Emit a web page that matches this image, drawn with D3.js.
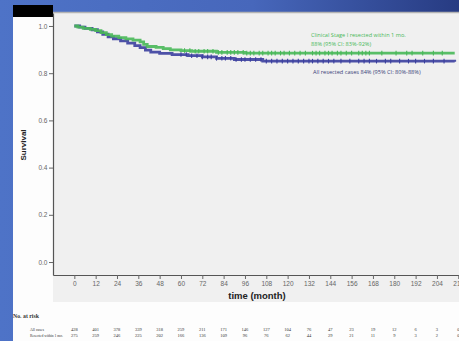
<!DOCTYPE html>
<html>
<head>
<meta charset="utf-8">
<script src="https://cdn.jsdelivr.net/npm/d3@7"></script>
<style>
  html, body { margin: 0; padding: 0; background: #4a6cc2; }
  svg { display: block; }
</style>
</head>
<body>
<div id="chart"></div>
<script>
// step points [month, survival]
const stageIMonths = [0, 2, 5, 9, 12, 15, 18, 21, 25, 29, 33, 37, 39, 41, 46, 50, 54, 60, 66, 80, 96, 214];
const stageISurv   = [1.0, 0.995, 0.99, 0.986, 0.98, 0.972, 0.963, 0.957, 0.951, 0.945, 0.94, 0.933, 0.922, 0.913, 0.909, 0.904, 0.899, 0.896, 0.893, 0.888, 0.885, 0.885];
const allMonths = [0, 3, 6, 10, 13, 16, 19, 22, 26, 30, 34, 37, 40, 43, 48, 55, 64, 72, 80, 90, 106, 214];
const allSurv   = [1.0, 0.995, 0.99, 0.984, 0.975, 0.965, 0.954, 0.946, 0.937, 0.927, 0.917, 0.908, 0.898, 0.889, 0.884, 0.879, 0.874, 0.869, 0.863, 0.858, 0.851, 0.848];

// censored observations (months)
const stageICensor = [62, 65, 68, 70, 73, 75, 78, 81, 83, 86, 88, 90, 92, 95, 97, 99, 101, 104, 106, 109, 111, 113, 116, 118, 121, 124, 127, 130, 134, 136, 138, 141, 143, 145, 148, 150, 153, 156, 160, 162, 164, 166, 173, 181, 187, 190, 196, 202, 207];
const allCensor = [60, 63, 66, 69, 72, 75, 77, 80, 83, 85, 88, 91, 94, 96, 99, 102, 105, 108, 111, 114, 117, 120, 123, 126, 129, 132, 134, 137, 140, 143, 146, 150, 155, 160, 163, 166, 170, 175, 178, 183, 188, 192, 197, 202, 208];

const xTicks = d3.range(0, 217, 12);
const yTicks = [0, 0.2, 0.4, 0.6, 0.8, 1.0];

const riskLabels = ['All cases', 'Resected within 1 mo.'];
const riskAll = [428, 401, 378, 339, 318, 259, 211, 171, 146, 127, 104, 76, 47, 23, 19, 12, 6, 3, 0];
const riskStageI = [275, 259, 246, 225, 202, 166, 136, 109, 96, 76, 62, 44, 29, 21, 11, 9, 3, 2, 0];

const W = 459, H = 341;
const green = '#48b858', blue = '#3b3f9e';

const svg = d3.select('#chart').append('svg').attr('width', W).attr('height', H);

const defs = svg.append('defs');
const grad = defs.append('linearGradient').attr('id', 'bg').attr('x1', 0).attr('x2', 1).attr('y1', 0).attr('y2', 0);
grad.append('stop').attr('offset', '0%').attr('stop-color', '#4e73c7');
grad.append('stop').attr('offset', '55%').attr('stop-color', '#4767bb');
grad.append('stop').attr('offset', '100%').attr('stop-color', '#273b82');
svg.append('rect').attr('width', W).attr('height', H).attr('fill', 'url(#bg)');

// white slide panel + grey plot panel
svg.append('rect').attr('x', 13).attr('y', 12).attr('width', W - 13).attr('height', H - 12).attr('fill', '#fdfdfd');
svg.append('rect').attr('x', 53).attr('y', 12).attr('width', W - 53).attr('height', 290).attr('fill', '#f0f0f0');
svg.append('line').attr('x1', 53).attr('x2', W).attr('y1', 12.5).attr('y2', 12.5).attr('stroke', '#b4b4b4').attr('stroke-width', 1.5);
svg.append('rect').attr('x', 13).attr('y', 5).attr('width', 40).attr('height', 12).attr('fill', '#000');

const x = d3.scaleLinear().domain([-12, 228]).range([53, 479.6]);
const y = d3.scaleLinear().domain([-0.055, 1.055]).range([275, 13]);

const xAxis = d3.axisBottom(x).tickValues(xTicks).tickSize(4).tickSizeOuter(0).tickPadding(2);
const gx = svg.append('g').attr('transform', 'translate(0,275)').call(xAxis);
gx.select('.domain').attr('stroke', '#555').attr('stroke-width', 1.2);
gx.selectAll('.tick line').attr('stroke', '#666');
gx.selectAll('text').attr('fill', '#666').attr('font-size', 6.5).attr('font-family', 'Liberation Sans, Arial, sans-serif');

const yAxis = d3.axisLeft(y).tickValues(yTicks).tickFormat(d3.format('.1f')).tickSize(4).tickSizeOuter(0).tickPadding(1.5);
const gy = svg.append('g').attr('transform', 'translate(53,0)').call(yAxis);
gy.select('.domain').attr('stroke', '#555').attr('stroke-width', 1.2);
gy.selectAll('.tick line').attr('stroke', '#666');
gy.selectAll('text').attr('fill', '#666').attr('font-size', 6.5).attr('font-family', 'Liberation Sans, Arial, sans-serif');

svg.append('text')
  .attr('transform', 'translate(26,145) rotate(-90)')
  .attr('text-anchor', 'middle')
  .attr('font-family', 'Liberation Sans, Arial, sans-serif')
  .attr('font-weight', 'bold').attr('font-size', 8).attr('fill', '#222')
  .text('Survival');

svg.append('text')
  .attr('x', 257).attr('y', 299)
  .attr('text-anchor', 'middle')
  .attr('font-family', 'Liberation Sans, Arial, sans-serif')
  .attr('font-weight', 'bold').attr('font-size', 9.5).attr('fill', '#222')
  .text('time (month)');

// survival curves
function drawCurve(months, surv, censor, color) {
  const pts = months.map((m, i) => [m, surv[i]]);
  const line = d3.line().x(d => x(d[0])).y(d => y(d[1])).curve(d3.curveStepAfter);
  svg.append('path').datum(pts)
    .attr('fill', 'none').attr('stroke', color).attr('stroke-width', 2.8).attr('opacity', 0.9)
    .attr('d', line);
  const bis = d3.bisector(d => d).right;
  svg.append('g').selectAll('line').data(censor).enter().append('line')
    .attr('x1', d => x(d)).attr('x2', d => x(d))
    .attr('y1', d => y(surv[bis(months, d) - 1]) - 2.3)
    .attr('y2', d => y(surv[bis(months, d) - 1]) + 2.3)
    .attr('stroke', color).attr('stroke-width', 1.1);
}
drawCurve(allMonths, allSurv, allCensor, blue);
drawCurve(stageIMonths, stageISurv, stageICensor, green);

// legend texts
const lg = svg.append('g').attr('font-family', 'Open Sans, Liberation Sans, sans-serif').attr('font-size', 5.6);
lg.append('text').attr('x', 311).attr('y', 37).attr('fill', green).text('Clinical Stage I resected within 1 mo.');
lg.append('text').attr('x', 311).attr('y', 46).attr('fill', green).text('88% (95% CI: 83%-92%)');
lg.append('text').attr('x', 313).attr('y', 74).attr('fill', '#3a3f78').text('All resected cases 84% (95% CI: 80%-88%)');

// number at risk table
const tb = svg.append('g').attr('font-family', 'Liberation Serif, Times New Roman, serif').attr('fill', '#333');
tb.append('text').attr('x', 13).attr('y', 318).attr('font-size', 5.8).attr('font-weight', 'bold').text('No. at risk');
const labelLen = [14, 33];
[riskAll, riskStageI].forEach((row, r) => {
  const yy = 331 + r * 5.5;
  tb.append('text').attr('x', 30).attr('y', yy).attr('font-size', 4.3)
    .attr('textLength', labelLen[r]).attr('lengthAdjust', 'spacingAndGlyphs')
    .text(riskLabels[r]);
  tb.selectAll(null).data(row).enter().append('text')
    .attr('x', (d, i) => x(xTicks[i])).attr('y', yy)
    .attr('text-anchor', 'middle').attr('font-size', 4.5)
    .text(d => d);
});
</script>
</body>
</html>
